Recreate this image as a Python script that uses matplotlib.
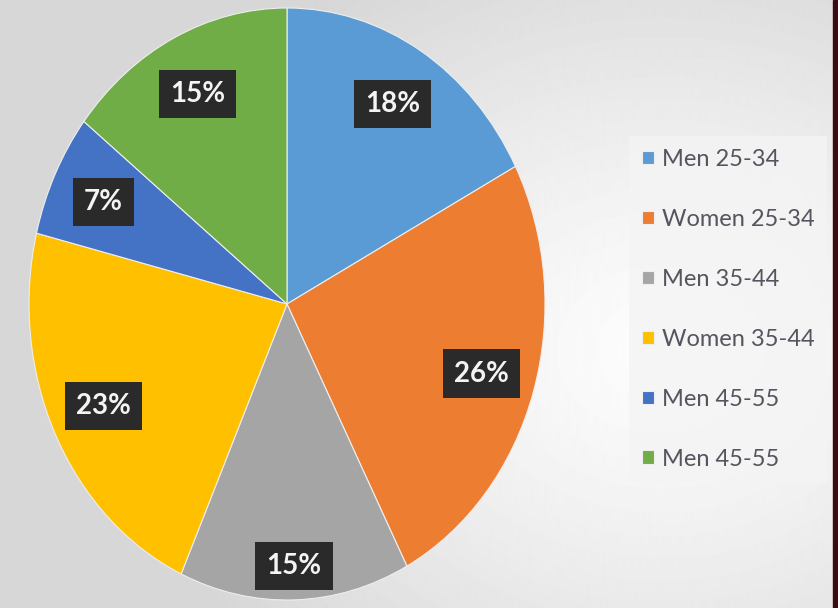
import numpy as np
from matplotlib import pyplot as plt
from matplotlib.patches import Rectangle

groups = ["Men 25-34", "Women 25-34", "Men 35-44", "Women 35-44", "Men 45-55", "Men 45-55"]
shares = [18, 26, 15, 23, 7, 15]
colors = ["#5B9BD5", "#ED7D31", "#A5A5A5", "#FFC000", "#4472C4", "#70AD47"]

font = ["Lato", "DejaVu Sans"]

fig = plt.figure(figsize=(8.38, 6.08), dpi=100)

# light radial background, brightest right of the pie
bg = fig.add_axes([0, 0, 1, 1], zorder=-10)
yy, xx = np.mgrid[0:608, 0:838]
d = np.hypot((xx - 660) / 520.0, (yy - 350) / 420.0)
shade = np.clip(0.99 - 0.14 * d ** 1.3, 0.84, 1.0)
bg.imshow(shade, cmap="gray", vmin=0, vmax=1, aspect="auto", extent=(0, 838, 608, 0))
bg.set_xlim(0, 838)
bg.set_ylim(608, 0)
bg.axis("off")

ax = fig.add_axes([29 / 838, 8 / 608, 516 / 838, 592 / 608])
wedges, texts, autotexts = ax.pie(
    shares, colors=colors, startangle=90, counterclock=False,
    autopct=lambda p: "%d%%" % round(p * 104 / 100), pctdistance=0.79,
    wedgeprops=dict(edgecolor="#eeeeee", linewidth=0.8),
    textprops=dict(color="#f4f4f4", fontsize=20, fontweight="bold", family=font),
)
ax.set_aspect("auto")
ax.set_xlim(-1, 1)
ax.set_ylim(-1, 1)

for t in autotexts:
    t.set_bbox(dict(boxstyle="square,pad=0.4", facecolor="#2a2a2a", edgecolor="none"))
# the grey slice label sits nearer the rim
x, y = autotexts[2].get_position()
autotexts[2].set_position((x * 1.12, y * 1.12))

leg = fig.legend(
    wedges, groups, loc="upper left", bbox_to_anchor=(617 / 838, 1 - 124 / 608),
    prop=dict(family=font, size=17), labelcolor="#555560",
    handlelength=0.5, handleheight=0.5, handletextpad=0.35,
    labelspacing=1.65, borderpad=0.55, frameon=True, fancybox=False,
)
leg.get_frame().set_facecolor("#f4f4f4")
leg.get_frame().set_edgecolor("none")

fig.add_artist(Rectangle((833 / 838, 0), 5 / 838, 1, transform=fig.transFigure,
                         color="#3a0c12", zorder=10))

fig.savefig("out.png", dpi=100)
